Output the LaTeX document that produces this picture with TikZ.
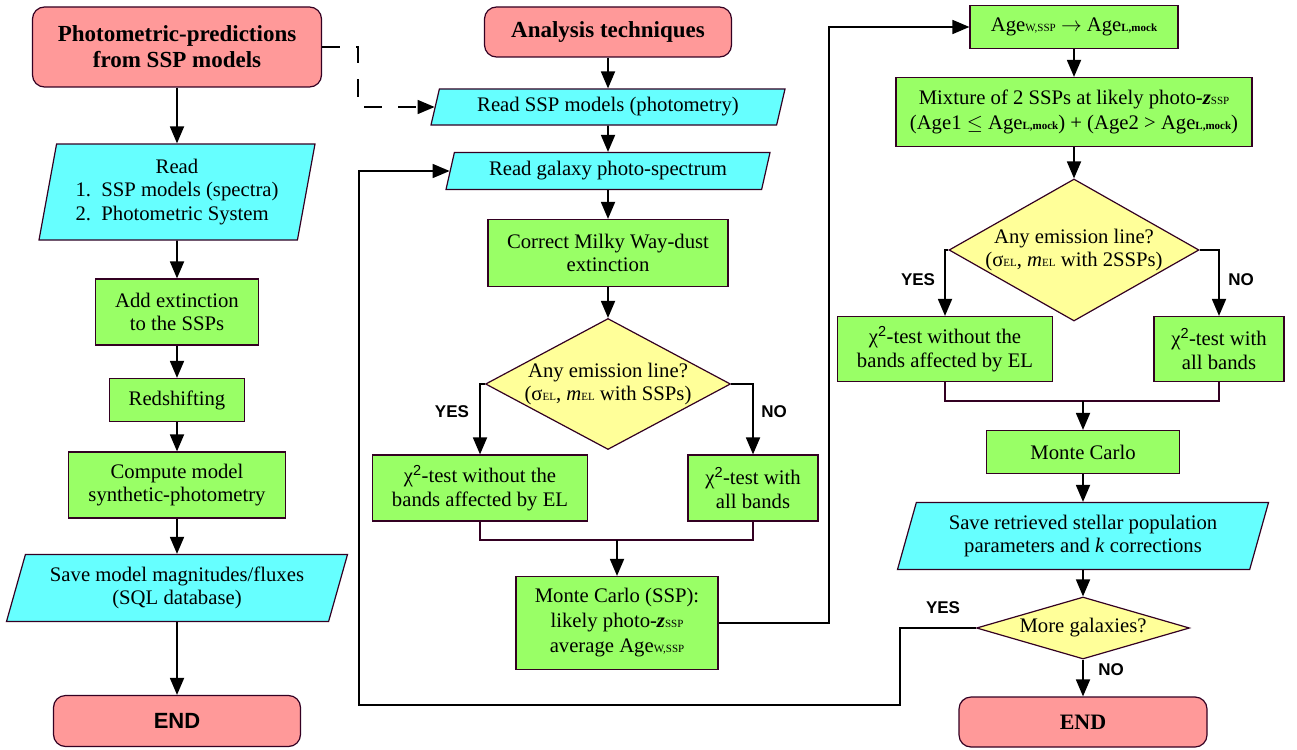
\documentclass[tikz,border=0pt]{standalone}
\usepackage{fontspec}
\setmainfont{Liberation Serif}
\setsansfont{Liberation Sans}
\usetikzlibrary{shapes.geometric,arrows.meta}
\definecolor{endpink}{RGB}{255,153,153}
\definecolor{iocyan}{RGB}{102,255,255}
\definecolor{procgreen}{RGB}{153,255,102}
\definecolor{askyellow}{RGB}{255,255,153}
\definecolor{rim}{RGB}{51,0,34}
\newcommand{\smallsub}[1]{{\fontsize{11}{11}\selectfont #1}}
\newcommand{\boldsub}[1]{{\fontsize{11}{11}\selectfont\bfseries #1}}
\newcommand{\zssp}{\textbf{\textit{z}}\smallsub{SSP}}
\newcommand{\chisq}{χ\textsuperscript{\sffamily 2}}

\begin{document}
\begin{tikzpicture}[x=1pt,y=-1pt,
    every node/.style={font=\fontsize{20.7}{23.5}\selectfont, align=center},
    termbox/.style={draw=rim, line width=1.2pt, fill=endpink, rounded corners=12pt, inner sep=0pt},
    procbox/.style={draw=rim, line width=1.2pt, fill=procgreen, inner sep=0pt},
    iobox/.style={trapezium, trapezium left angle=66, trapezium right angle=114,
        trapezium stretches body, draw=rim, line width=1.2pt, fill=iocyan, inner sep=0pt},
    askbox/.style={diamond, draw=rim, line width=1.2pt, fill=askyellow, inner sep=0pt},
    flow/.style={line width=1.8pt, -{Triangle[length=17pt,width=14pt]}},
    merge/.style={line width=1.6pt, draw=rim},
    answer/.style={font=\fontsize{17}{17}\selectfont\sffamily\bfseries}]
    \useasboundingbox (0,0) rectangle (1297,749);

    % left column: photometric predictions
    \node[termbox, minimum width=289pt, minimum height=80pt, font=\fontsize{23}{26}\selectfont\bfseries] (photo) at (177,47) {Photometric-predictions\\from SSP models};
    \node[iobox, trapezium left angle=76, trapezium right angle=104, minimum width=276pt, minimum height=96pt] (readmod) at (177,192)
        {\begin{tabular}{@{}l@{}}\multicolumn{1}{@{}c@{}}{Read}\\1.\ \ SSP models (spectra)\\2.\ \ Photometric System\end{tabular}};
    \node[procbox, minimum width=163pt, minimum height=66pt] (addext) at (177,312) {Add extinction\\to the SSPs};
    \node[procbox, minimum width=135pt, minimum height=43pt] (redsh) at (177,400) {Redshifting};
    \node[procbox, minimum width=217pt, minimum height=66pt] (synth) at (177,485) {Compute model\\synthetic-photometry};
    \node[iobox, minimum width=341pt, minimum height=67pt] (savemag) at (177,588) {Save model magnitudes/fluxes\\(SQL database)};
    \node[termbox, minimum width=247pt, minimum height=51pt, font=\fontsize{22}{22}\selectfont\sffamily\bfseries] (endL) at (177,721) {END};

    % middle column: analysis
    \node[termbox, minimum width=247pt, minimum height=50pt, font=\fontsize{23}{23}\selectfont\bfseries] (anal) at (608,32) {Analysis techniques};
    \node[iobox, minimum width=354pt, minimum height=36pt] (readssp) at (608,107) {Read SSP models (photometry)};
    \node[iobox, minimum width=324pt, minimum height=37pt] (readgal) at (608,171) {Read galaxy photo-spectrum};
    \node[procbox, minimum width=240pt, minimum height=67pt] (mwdust) at (608,253) {Correct Milky Way-dust\\extinction};
    \node[askbox, minimum width=245pt, minimum height=131pt,
        label={center:Any emission line?\\(σ\smallsub{EL}, \textit{m}\smallsub{EL} with SSPs)}] (emis) at (608,384) {};
    \node[procbox, minimum width=215pt, minimum height=66pt] (chinoel) at (480,488) {\chisq-test without the\\bands affected by EL};
    \node[procbox, minimum width=130pt, minimum height=66pt] (chiall) at (753,488) {\chisq-test with\\all bands};
    \node[procbox, minimum width=202pt, minimum height=93pt, font=\fontsize{20.7}{25}\selectfont] (mcssp) at (617,623) {Monte Carlo (SSP):\\likely photo-\zssp\\average Age\smallsub{W,SSP}};

    % right column: two SSPs
    \node[procbox, minimum width=208pt, minimum height=43pt] (ageconv) at (1074,27) {Age\smallsub{W,SSP} $\rightarrow$ Age\boldsub{L,mock}};
    \node[procbox, minimum width=356pt, minimum height=69pt, font=\fontsize{20.7}{25}\selectfont] (mixture) at (1074,112)
        {Mixture of 2 SSPs at likely photo-\zssp\\(Age1 $\leq$ Age\boldsub{L,mock}) + (Age2 > Age\boldsub{L,mock})};
    \node[askbox, minimum width=250pt, minimum height=142pt,
        label={center:Any emission line?\\(σ\smallsub{EL}, \textit{m}\smallsub{EL} with 2SSPs)}] (emis2) at (1074,250) {};
    \node[procbox, minimum width=215pt, minimum height=65pt] (chinoel2) at (945,349) {\chisq-test without the\\bands affected by EL};
    \node[procbox, minimum width=130pt, minimum height=65pt] (chiall2) at (1219,349) {\chisq-test with\\all bands};
    \node[procbox, minimum width=193pt, minimum height=43pt] (montec) at (1083,452) {Monte Carlo};
    \node[iobox, minimum width=371pt, minimum height=67pt] (savepar) at (1083,536) {Save retrieved stellar population\\parameters and \textit{k} corrections};
    \node[askbox, minimum width=213pt, minimum height=62pt, label={center:More galaxies?}] (more) at (1083,628) {};
    \node[termbox, minimum width=248pt, minimum height=50pt, font=\fontsize{22}{22}\selectfont\bfseries] (endR) at (1083,722) {END};

    % branch labels
    \node[answer] (yes1) at (452,412) {YES};
    \node[answer] (no1) at (774,412) {NO};
    \node[answer] (yes2) at (918,280) {YES};
    \node[answer] (no2) at (1241,280) {NO};
    \node[answer] (yes3) at (943,608) {YES};
    \node[answer] (no3) at (1111,670) {NO};

    % junction points
    \coordinate (dashcorner) at (358,47);
    \coordinate (j1) at (617,540);
    \coordinate (j2) at (1083,401);
    \coordinate (upturn) at (829,27);
    \coordinate (loopA) at (900,705);
    \coordinate (loopB) at (359,705);

    % left column arrows
    \draw[flow] (photo) -- (readmod);
    \draw[flow] (readmod) -- (addext);
    \draw[flow] (addext) -- (redsh);
    \draw[flow] (redsh) -- (synth);
    \draw[flow] (synth) -- (savemag);
    \draw[flow] (savemag) -- (endL);
    \draw[flow, dash pattern=on 18pt off 16pt] (photo.east) -- (dashcorner) |- (readssp.west);

    % middle column arrows
    \draw[flow] (anal) -- (readssp);
    \draw[flow] (readssp) -- (readgal);
    \draw[flow] (readgal) -- (mwdust);
    \draw[flow] (mwdust) -- (emis);
    \draw[flow] (emis.west) -| (chinoel.north);
    \draw[flow] (emis.east) -| (chiall.north);
    \draw[merge] (chinoel.south) |- (j1) -| (chiall.south);
    \draw[flow] (j1) -- (mcssp.north);
    \draw[flow] (mcssp.east) -| (upturn) -- (ageconv.west);

    % right column arrows
    \draw[flow] (ageconv) -- (mixture);
    \draw[flow] (mixture) -- (emis2);
    \draw[flow] (emis2.west) -| (chinoel2.north);
    \draw[flow] (emis2.east) -| (chiall2.north);
    \draw[merge] (chinoel2.south) |- (j2) -| (chiall2.south);
    \draw[flow] (j2) -- (montec.north);
    \draw[flow] (montec) -- (savepar);
    \draw[flow] (savepar) -- (more);
    \draw[flow] (more) -- (endR);
    \draw[flow] (more.west) -| (loopA) -- (loopB) |- (readgal.west);
\end{tikzpicture}
\end{document}
